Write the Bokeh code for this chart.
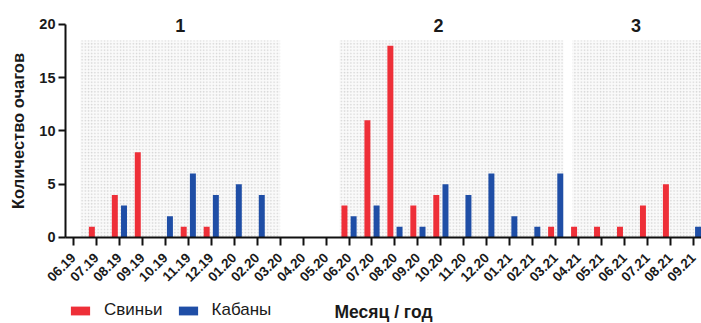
import math
from bokeh.plotting import figure
from bokeh.models import FixedTicker, Legend, LegendItem, Range1d, ColumnDataSource, Label
from bokeh.embed import file_html
from bokeh.resources import INLINE

months = ["06.19", "07.19", "08.19", "09.19", "10.19", "11.19", "12.19", "01.20",
          "02.20", "03.20", "04.20", "05.20", "06.20", "07.20", "08.20", "09.20",
          "10.20", "11.20", "12.20", "01.21", "02.21", "03.21", "04.21", "05.21",
          "06.21", "07.21", "08.21", "09.21"]
pigs = [0, 1, 4, 8, 0, 1, 1, 0, 0, 0, 0, 0, 3, 11, 18, 3, 4, 0, 0, 0, 0, 1, 1, 1, 1, 3, 5, 0]
boars = [0, 0, 3, 0, 2, 6, 4, 5, 4, 0, 0, 0, 2, 3, 1, 1, 5, 4, 6, 2, 1, 6, 0, 0, 0, 0, 0, 1]
y_ticks = [0, 5, 10, 15, 20]

# periods (start/end in month-index units) and their labels
period_names = ["1", "2", "3"]
period_start = [0.3, 11.58, 21.73]
period_end = [9.0, 21.34, 27.6]
period_top = [18.5, 18.5, 18.5]
period_label_x = [4.65, 15.9, 24.5]

FONT = "Liberation Sans"
RED = "#ee2f38"
BLUE = "#1f4ea6"
INK = "#1a1a1a"

idx = list(range(len(months)))
X0, X1 = -0.348, 27.35   # axis extent (month-index units)

# frame covers the whole canvas; both axes are pinned at data positions
p = figure(width=701, height=323,
           x_range=Range1d(-3.1788, X1), y_range=Range1d(-8.075, 22.25),
           output_backend="svg", toolbar_location=None,
           min_border_left=0, min_border_right=0, min_border_top=0, min_border_bottom=0)
p.background_fill_color = "white"
p.border_fill_color = "white"
p.outline_line_color = None
p.grid.visible = False

# shaded periods
p.quad(left=period_start, right=period_end, bottom=[0, 0, 0], top=period_top,
       fill_color="#fafafa", line_color=None,
       hatch_pattern="dot", hatch_color="#d4d4d4", hatch_scale=3.2, hatch_weight=1)

for name, lx in zip(period_names, period_label_x):
    p.add_layout(Label(x=lx, y=19.9, text=name, text_font=FONT, text_font_style="bold",
                       text_font_size="18px", text_align="center", text_baseline="middle",
                       text_color=INK))

src = ColumnDataSource(dict(xr=[i - 0.2 for i in idx], xb=[i + 0.2 for i in idx],
                            pigs=pigs, boars=boars))
r_red = p.vbar(x="xr", top="pigs", width=0.26, bottom=0, source=src,
               fill_color=RED, line_color=None)
r_blue = p.vbar(x="xb", top="boars", width=0.26, bottom=0, source=src,
                fill_color=BLUE, line_color=None)

# x axis
xa = p.xaxis[0]
xa.fixed_location = 0
xa.bounds = (X0, X1)
xa.ticker = FixedTicker(ticks=idx)
xa.major_label_overrides = {i: m for i, m in enumerate(months)}
xa.major_label_orientation = math.pi / 4
xa.major_label_text_font = FONT
xa.major_label_text_font_style = "bold"
xa.major_label_text_font_size = "13.5px"
xa.major_label_text_color = INK
xa.major_label_standoff = 10
xa.axis_line_width = 2
xa.axis_line_color = "#111111"
xa.major_tick_line_width = 2
xa.major_tick_line_color = "#111111"
xa.major_tick_out = 8
xa.major_tick_in = 0
xa.minor_tick_line_color = None
xa.axis_label = "Месяц / год"
xa.axis_label_text_font = FONT
xa.axis_label_text_font_style = "bold"
xa.axis_label_text_font_size = "17.5px"
xa.axis_label_text_color = INK
xa.axis_label_standoff = 13

# y axis
ya = p.yaxis[0]
ya.fixed_location = X0
ya.bounds = (0, 20)
ya.ticker = FixedTicker(ticks=y_ticks)
ya.major_label_text_font = FONT
ya.major_label_text_font_style = "bold"
ya.major_label_text_font_size = "14.5px"
ya.major_label_text_color = INK
ya.major_label_standoff = 3
ya.axis_line_width = 2
ya.axis_line_color = "#111111"
ya.major_tick_line_width = 2
ya.major_tick_line_color = "#111111"
ya.major_tick_out = 7
ya.major_tick_in = 0
ya.minor_tick_line_color = None
ya.axis_label = "Количество очагов"
ya.axis_label_text_font = FONT
ya.axis_label_text_font_style = "bold"
ya.axis_label_text_font_size = "16.5px"
ya.axis_label_text_color = INK
ya.axis_label_standoff = 9

legend = Legend(items=[LegendItem(label="Свиньи", renderers=[r_red]),
                       LegendItem(label="Кабаны", renderers=[r_blue])],
                orientation="horizontal", location=(68, 3),
                glyph_width=24, glyph_height=11, label_standoff=12, spacing=13,
                padding=0, margin=0, border_line_color=None, background_fill_alpha=0,
                label_text_font=FONT, label_text_font_size="17px",
                label_text_color=INK)
p.add_layout(legend, "center")

open("out.html", "w").write(file_html(p, INLINE))
